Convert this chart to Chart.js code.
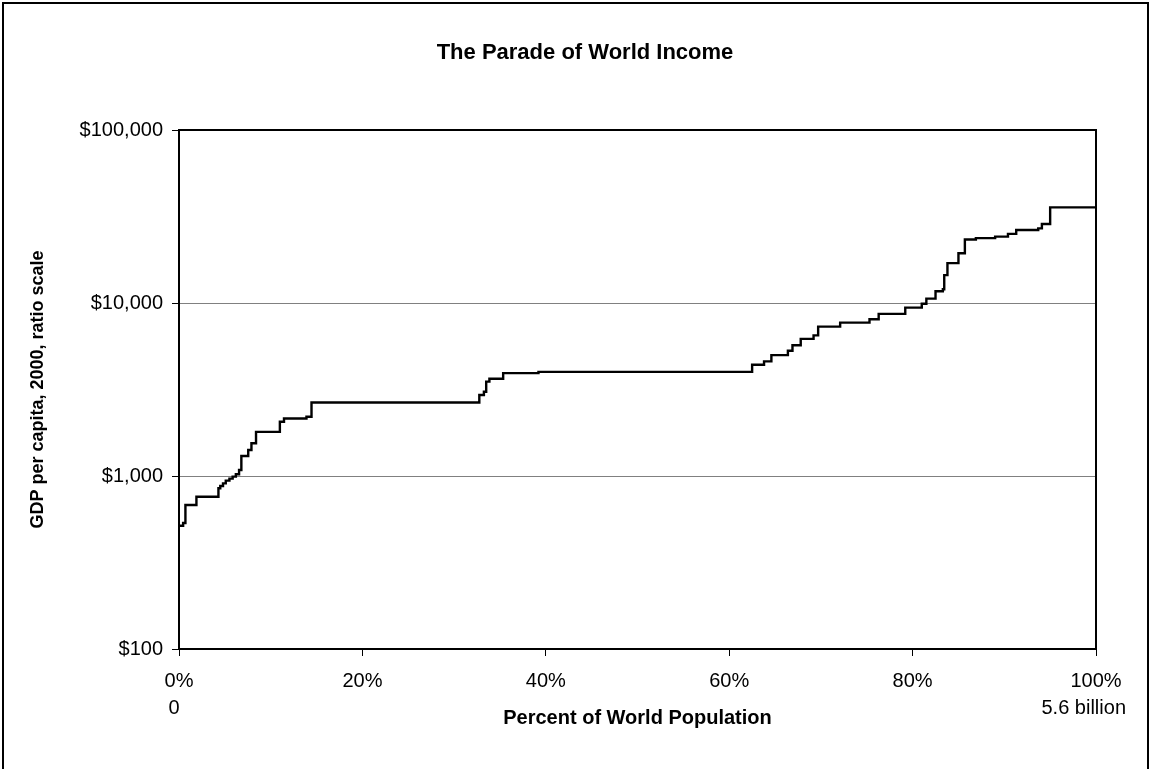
<!DOCTYPE html>
<html>
<head>
<meta charset="utf-8">
<script src="https://cdn.jsdelivr.net/npm/chart.js@4/dist/chart.umd.min.js"></script>
<style>
  html, body { margin: 0; padding: 0; background: #fff; }
  #wrap { width: 1151px; height: 769px; }
</style>
</head>
<body>
<div id="wrap"><canvas id="c" width="1151" height="769"></canvas></div>
<script>
// Cumulative share of world population (%) at which each income level begins,
// countries ranked from poorest to richest.
const popShare = [
  0, 0.45, 0.7, 1.9, 4.3, 4.5, 4.8, 5.1, 5.5, 5.85, 6.2, 6.55, 6.8, 7.55, 7.9, 8.4,
  11.0, 11.45, 13.9, 14.45,
  32.75, 33.25, 33.5, 33.85, 35.35, 39.2,
  62.5, 63.8, 64.6, 66.4, 66.9, 67.8, 69.2, 69.7, 72.1, 75.3, 76.3, 79.2,
  81.0, 81.5, 82.5, 83.3, 83.45, 83.8, 85.0, 85.7, 86.9, 89.0, 90.4, 91.3,
  93.7, 94.1, 95.0, 100
];
// GDP per capita, 2000 dollars, for each of those levels.
const gdpPerCapita = [
  516, 535, 680, 758, 849, 875, 907, 940, 966, 992, 1023, 1083, 1306, 1414, 1545, 1800,
  2060, 2150, 2200, 2660,
  2940, 3070, 3510, 3650, 3930, 4000,
  4400, 4600, 5000, 5300, 5700, 6200, 6500, 7300, 7700, 8050, 8650, 9400,
  9900, 10600, 11700, 12000, 14500, 17000, 19400, 23300, 23700, 24200, 25100, 26400,
  27000, 28600, 35700, 35700
];
const yTickValues = [100, 1000, 10000, 100000];
const xTickValues = [0, 20, 40, 60, 80, 100];
const xSubLabels = [
  { at: 0, text: '0' },
  { at: 100, text: '5.6 billion' }
];

const FONT = '"Liberation Sans", Arial, Helvetica, sans-serif';
Chart.defaults.font.family = FONT;
Chart.defaults.color = '#000';

const points = popShare.map((p, i) => ({ x: p, y: gdpPerCapita[i] }));

// White page, outer frame and the box around the plotting area.
const framePlugin = {
  id: 'frame',
  beforeDraw(chart) {
    const ctx = chart.ctx;
    ctx.save();
    ctx.fillStyle = '#fff';
    ctx.fillRect(0, 0, chart.width, chart.height);
    ctx.restore();
  },
  afterDraw(chart) {
    const ctx = chart.ctx;
    const a = chart.chartArea;
    ctx.save();
    ctx.strokeStyle = '#000';
    ctx.lineWidth = 2;
    ctx.strokeRect(a.left, a.top, a.right - a.left, a.bottom - a.top);
    ctx.beginPath();
    ctx.moveTo(3, chart.height + 5);
    ctx.lineTo(3, 3);
    ctx.lineTo(chart.width - 3, 3);
    ctx.lineTo(chart.width - 3, chart.height + 5);
    ctx.stroke();
    ctx.restore();
  }
};

// Second line under the first and last x tick: population head count.
const subLabelPlugin = {
  id: 'subLabels',
  afterDraw(chart) {
    const ctx = chart.ctx;
    const xs = chart.scales.x;
    ctx.save();
    ctx.font = '20px ' + FONT;
    ctx.fillStyle = '#000';
    ctx.textBaseline = 'middle';
    xSubLabels.forEach(s => {
      const px = xs.getPixelForValue(s.at);
      if (s.at === 0) {
        ctx.textAlign = 'center';
        ctx.fillText(s.text, px - 5, 708);
      } else {
        ctx.textAlign = 'right';
        ctx.fillText(s.text, px + 30, 708);
      }
    });
    ctx.restore();
  }
};

new Chart(document.getElementById('c'), {
  type: 'line',
  data: {
    datasets: [{
      data: points,
      borderColor: '#000',
      borderWidth: 2.4,
      pointRadius: 0,
      stepped: true,
      fill: false
    }]
  },
  options: {
    responsive: false,
    animation: false,
    devicePixelRatio: 1,
    layout: { padding: { left: 19, right: 0, top: 0, bottom: 0 } },
    plugins: {
      legend: { display: false },
      tooltip: { enabled: false },
      title: {
        display: true,
        text: 'The Parade of World Income',
        font: { size: 22, weight: 'bold' },
        color: '#000',
        padding: { top: 40, bottom: 63.6 }
      }
    },
    scales: {
      x: {
        type: 'linear',
        min: 0,
        max: 100,
        afterBuildTicks: s => { s.ticks = xTickValues.map(v => ({ value: v })); },
        afterFit: s => { s.height = 120; },
        ticks: {
          callback: v => v + '%',
          font: { size: 20 },
          color: '#000',
          padding: 13,
          maxRotation: 0
        },
        grid: {
          drawOnChartArea: false,
          drawTicks: true,
          tickLength: 7,
          tickColor: '#000',
          tickWidth: 1
        },
        border: { display: true, color: '#000', width: 2 },
        title: {
          display: true,
          text: 'Percent of World Population',
          font: { size: 20, weight: 'bold' },
          color: '#000',
          padding: { top: 0, bottom: 39 }
        }
      },
      y: {
        type: 'logarithmic',
        min: 100,
        max: 100000,
        afterBuildTicks: s => { s.ticks = yTickValues.map(v => ({ value: v })); },
        afterFit: s => { s.width = 160; },
        ticks: {
          callback: v => '$' + Number(v).toLocaleString('en-US'),
          font: { size: 20 },
          color: '#000',
          padding: 9
        },
        grid: {
          drawOnChartArea: true,
          color: '#808080',
          lineWidth: 1,
          drawTicks: true,
          tickLength: 7,
          tickColor: '#000',
          tickWidth: 1
        },
        border: { display: true, color: '#000', width: 2 },
        title: {
          display: true,
          text: 'GDP per capita, 2000, ratio scale',
          font: { size: 18, weight: 'bold' },
          color: '#000',
          padding: { top: 8.2, bottom: 0 }
        }
      },
      // Empty right-hand margin so the plot ends where the page's right gutter begins.
      gutter: {
        type: 'linear',
        position: 'right',
        display: true,
        afterFit: s => { s.width = 55; },
        ticks: { display: false },
        grid: { display: false, drawTicks: false },
        border: { display: false }
      }
    }
  },
  plugins: [framePlugin, subLabelPlugin]
});
</script>
</body>
</html>
